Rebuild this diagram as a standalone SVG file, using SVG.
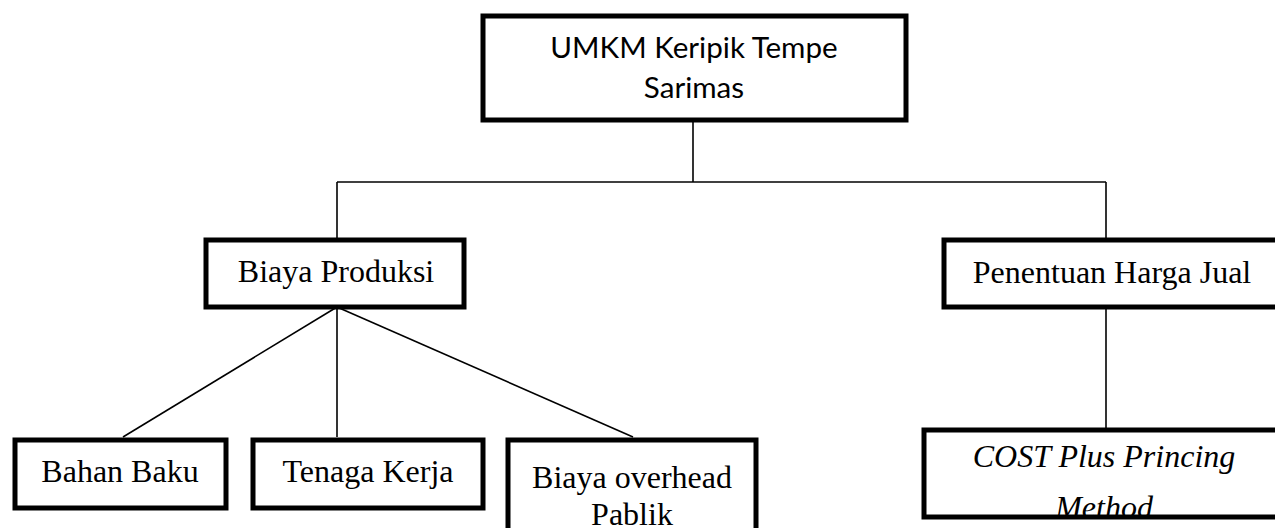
<svg xmlns="http://www.w3.org/2000/svg" width="1275" height="528" viewBox="0 0 1275 528">
<style>
.box{fill:#fff;stroke:#000;stroke-width:5}
.t{font-family:"Liberation Serif","Times New Roman",serif;font-size:32px;fill:#000;text-anchor:middle}
.c{font-family:Lato,"Open Sans",sans-serif;font-size:29.6px;fill:#000;text-anchor:middle}
.i{font-style:italic}
.ln{stroke:#000;stroke-width:1.6;fill:none}
</style>
<defs>
<clipPath id="clipCost"><rect x="927" y="433" width="360" height="82"/></clipPath>
</defs>
<rect width="1275" height="528" fill="#fff"/>
<g id="connectors">
<line class="ln" x1="693" y1="120" x2="693" y2="182"/>
<line class="ln" x1="337" y1="182" x2="1106" y2="182"/>
<line class="ln" x1="337" y1="182" x2="337" y2="240"/>
<line class="ln" x1="1106" y1="182" x2="1106" y2="240"/>
<line class="ln" x1="337" y1="307" x2="123" y2="437"/>
<line class="ln" x1="337" y1="307" x2="337" y2="437"/>
<line class="ln" x1="337" y1="307" x2="633" y2="437"/>
<line class="ln" x1="1106" y1="307" x2="1106" y2="430"/>
</g>
<g id="umkm">
<rect class="box" x="483" y="16" width="423" height="104"/>
<text class="c" x="694" y="58">UMKM Keripik Tempe</text>
<text class="c" x="694" y="98">Sarimas</text>
</g>
<g id="biaya-produksi">
<rect class="box" x="206" y="240" width="258" height="67"/>
<text class="t" x="336" y="282">Biaya Produksi</text>
</g>
<g id="penentuan-harga">
<rect class="box" x="944" y="240" width="340" height="67"/>
<text class="t" x="1112" y="283">Penentuan Harga Jual</text>
</g>
<g id="bahan-baku">
<rect class="box" x="15" y="440" width="211" height="68"/>
<text class="t" x="120" y="482">Bahan Baku</text>
</g>
<g id="tenaga-kerja">
<rect class="box" x="253" y="440" width="230" height="68"/>
<text class="t" x="368" y="482">Tenaga Kerja</text>
</g>
<g id="biaya-overhead">
<rect class="box" x="508" y="440" width="248" height="100"/>
<text class="t" x="632" y="488">Biaya overhead</text>
<text class="t" x="632" y="525">Pablik</text>
</g>
<g id="cost-plus">
<rect class="box" x="924" y="430" width="360" height="87"/>
<g clip-path="url(#clipCost)">
<text class="t i" x="1104" y="467">COST Plus Princing</text>
<text class="t i" x="1104" y="518">Method</text>
</g>
</g>
</svg>
